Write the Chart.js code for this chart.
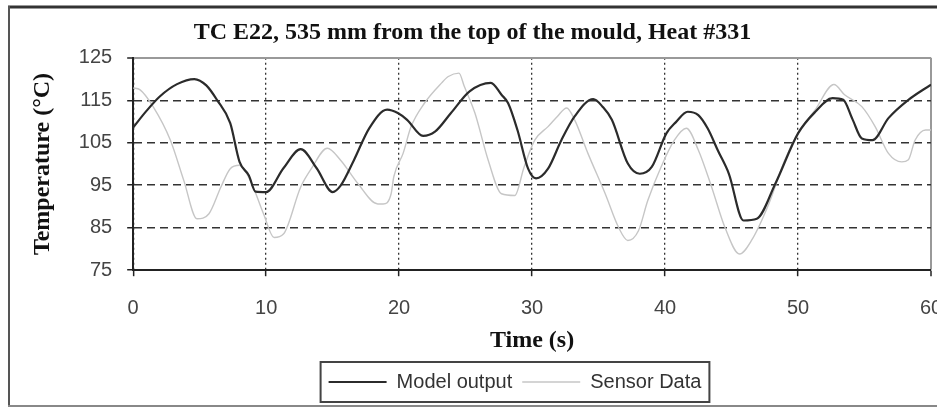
<!DOCTYPE html>
<html>
<head>
<meta charset="utf-8">
<title>TC E22, Heat #331</title>
<script src="https://cdn.jsdelivr.net/npm/chart.js@4/dist/chart.umd.min.js"></script>
<style>
  body { margin: 0; background: #fff; }
  canvas { display: block; }
</style>
</head>
<body>
<canvas id="tcChart" width="937" height="409"></canvas>
<script>
// values (time in s, temperature in °C)
const modelTime = [0, 1, 2, 3.3, 4.6, 5.5, 6.3, 7.3, 8.0, 8.7, 9.2, 10.0, 11.3, 12.6, 13.8, 15.0,
  15.6, 16.6, 17.75, 19.1, 19.9, 20.6, 21.8, 22.7, 23.9, 25.3, 26.9, 27.7, 28.2, 28.9, 29.7,
  30.3, 31.2, 32.2, 33.2, 34.6, 35.3, 36.0, 37.2, 38.1, 39.0, 40.1, 40.8, 41.7, 42.5, 43.2,
  44.0, 44.8, 45.9, 46.9, 48.3, 50.0, 51.3, 52.6, 53.4, 54.1, 54.8, 55.6, 56.8, 58.3, 60];
const modelTemp = [108.6, 112.5, 115.9, 118.8, 120, 118.5, 115.1, 109.6, 100.5, 97.3, 93.5, 93.4, 99, 103.5, 99, 93.4,
  94.9, 100.9, 108.4, 112.8, 112, 110.4, 106.6, 107.6, 112, 117.1, 119.1, 116.3, 114.3, 108, 98.9,
  96.6, 98.9, 105.6, 111.2, 115.3, 113.5, 110.4, 100.1, 97.7, 99.3, 107.2, 109.8, 112.3, 111.5, 108.4,
  103, 97.7, 86.7, 87.1, 95.4, 107.2, 112.3, 115.5, 115.1, 110.5, 106.0, 105.6, 110.8, 115.1, 118.7];

const sensorTime = [0, 0.5, 1.5, 2.8, 3.8, 4.8, 5.7, 6.6, 7.3, 8.0, 8.8, 9.8, 10.6, 11.3, 12.6, 13.4,
  14.6, 15.6, 16.9, 18.4, 18.8, 19.4, 19.6, 20.3, 20.9, 21.9, 23.2, 23.7, 24.5, 24.9, 25.7,
  26.7, 27.7, 28.7, 29.4, 30.2, 31.2, 31.9, 32.6, 33.2, 34.2, 35.5, 36.5, 37.2, 38.0, 38.7,
  39.7, 40.7, 41.6, 42.5, 43.5, 44.5, 45.6, 46.5, 47.8, 49.0, 50.0, 51.3, 52.7, 53.5, 54.8,
  55.8, 56.8, 57.8, 58.3, 58.8, 59.6, 60];
const sensorTemp = [117.9, 117.5, 113.5, 105.6, 96.2, 87.1, 88.3, 94.6, 98.9, 99.7, 96.2, 88.3, 82.7, 83.5, 94.6, 98.9,
  103.7, 100.9, 95.4, 90.6, 90.6, 93, 97, 102.5, 108.8, 114.3, 119.1, 120.6, 121.4, 118.3, 112,
  100.9, 93, 92.6, 99.3, 105.6, 108.8, 111.2, 113.2, 110.4, 102.5, 93, 85.1, 82, 84.3, 91.4,
  99.3, 105.6, 108.4, 103.3, 94.6, 85.1, 78.8, 82, 90.6, 100.9, 107.2, 112.8, 118.7, 116.3, 113.5,
  108.8, 102.5, 100.5, 101, 105.6, 108, 108];

const seriesNames = ['Model output', 'Sensor Data'];
const xTicks = [0, 10, 20, 30, 40, 50, 60];
const yTicks = [75, 85, 95, 105, 115, 125];

function toPoints(ts, vs) {
  return ts.map((t, i) => ({ x: t, y: vs[i] }));
}

const sansFont = { family: "'Liberation Sans', Arial, sans-serif", size: 20 };
const serifBold = { family: "'Liberation Serif', 'Times New Roman', serif", size: 24, weight: 'bold' };

// page frame, legend box and legend centring
const framePlugin = {
  id: 'frame',
  afterLayout(chart) {
    const lg = chart.legend;
    const shift = 515 - (lg.left + lg.right) / 2;
    lg.left += shift;
    lg.right += shift;
  },
  beforeDraw(chart) {
    const c = chart.ctx;
    c.save();
    c.fillStyle = '#fff';
    c.fillRect(0, 0, chart.width, chart.height);
    c.strokeStyle = '#333';
    c.lineWidth = 3;
    c.beginPath(); c.moveTo(8, 7); c.lineTo(chart.width, 7); c.stroke();
    c.strokeStyle = '#555';
    c.lineWidth = 2;
    c.beginPath(); c.moveTo(9, 6); c.lineTo(9, 406); c.stroke();
    c.strokeStyle = '#888';
    c.beginPath(); c.moveTo(8, 406); c.lineTo(chart.width, 406); c.stroke();
    c.restore();
  },
  afterDraw(chart) {
    const hb = chart.legend.legendHitBoxes;
    if (!hb || !hb.length) return;
    const last = hb[hb.length - 1];
    const c = chart.ctx;
    c.save();
    c.strokeStyle = '#444';
    c.lineWidth = 2;
    c.strokeRect(hb[0].left - 8, hb[0].top - 10, last.left + last.width - hb[0].left + 16, hb[0].height + 20);
    c.restore();
  }
};

const ctx = document.getElementById('tcChart').getContext('2d');
new Chart(ctx, {
  type: 'line',
  data: {
    datasets: [{
      label: seriesNames[0],
      data: toPoints(modelTime, modelTemp),
      borderColor: '#2b2b2b',
      backgroundColor: '#2b2b2b',
      borderWidth: 2.2,
      pointRadius: 0,
      cubicInterpolationMode: 'monotone'
    }, {
      label: seriesNames[1],
      data: toPoints(sensorTime, sensorTemp),
      borderColor: '#c6c6c6',
      backgroundColor: '#c6c6c6',
      borderWidth: 1.4,
      pointRadius: 0,
      cubicInterpolationMode: 'monotone'
    }]
  },
  options: {
    responsive: false,
    animation: false,
    devicePixelRatio: 1,
    layout: { padding: { left: 14, right: 6, top: 0, bottom: 7 } },
    plugins: {
      title: {
        display: true,
        text: 'TC E22, 535 mm from the top of the mould, Heat #331',
        color: '#111',
        font: serifBold,
        padding: { top: 18, bottom: 11 }
      },
      legend: {
        position: 'bottom',
        labels: {
          color: '#333',
          font: sansFont,
          boxWidth: 58,
          boxHeight: 0,
          padding: 10
        }
      },
      tooltip: { enabled: false }
    },
    scales: {
      x: {
        type: 'linear',
        min: xTicks[0],
        max: xTicks[xTicks.length - 1],
        afterBuildTicks: (s) => { s.ticks = xTicks.map(v => ({ value: v })); },
        // labels may run past the edges, and fit() counts tick padding twice
        afterFit: (s) => {
          s.paddingLeft = 0;
          s.paddingRight = 0;
          s.height -= s.options.ticks.padding;
        },
        ticks: { color: '#444', font: sansFont, padding: 20, maxRotation: 0 },
        grid: {
          color: (c) => c.tick && c.tick.value === 60 ? '#999' : '#333',
          lineWidth: (c) => c.tick && c.tick.value === 60 ? 2 : 1.3,
          tickColor: '#222',
          tickLength: 6,
          tickWidth: 1.5
        },
        border: {
          color: '#222',
          width: 2,
          dash: (c) => c.tick && c.tick.value === 60 ? [] : [2, 3]
        },
        title: {
          display: true,
          text: 'Time (s)',
          color: '#111',
          font: serifBold,
          padding: { top: 6, bottom: 7 }
        }
      },
      y: {
        min: yTicks[0],
        max: yTicks[yTicks.length - 1],
        afterBuildTicks: (s) => { s.ticks = yTicks.map(v => ({ value: v })); },
        afterFit: (s) => {
          s.paddingTop = 0;
          s.paddingBottom = 0;
          s.width -= s.options.ticks.padding;
        },
        ticks: { color: '#444', font: sansFont, padding: 15 },
        grid: {
          color: (c) => c.tick && c.tick.value === 125 ? '#999' : '#333',
          lineWidth: (c) => c.tick && c.tick.value === 125 ? 2 : 1.5,
          tickColor: '#222',
          tickLength: 6,
          tickWidth: 1.5
        },
        border: {
          color: '#222',
          width: 2,
          dash: (c) => c.tick && c.tick.value === 125 ? [] : [8, 5]
        },
        title: {
          display: true,
          text: 'Temperature (°C)',
          color: '#111',
          font: serifBold,
          padding: { top: 14, bottom: 22 }
        }
      }
    }
  },
  plugins: [framePlugin]
});
</script>
</body>
</html>
